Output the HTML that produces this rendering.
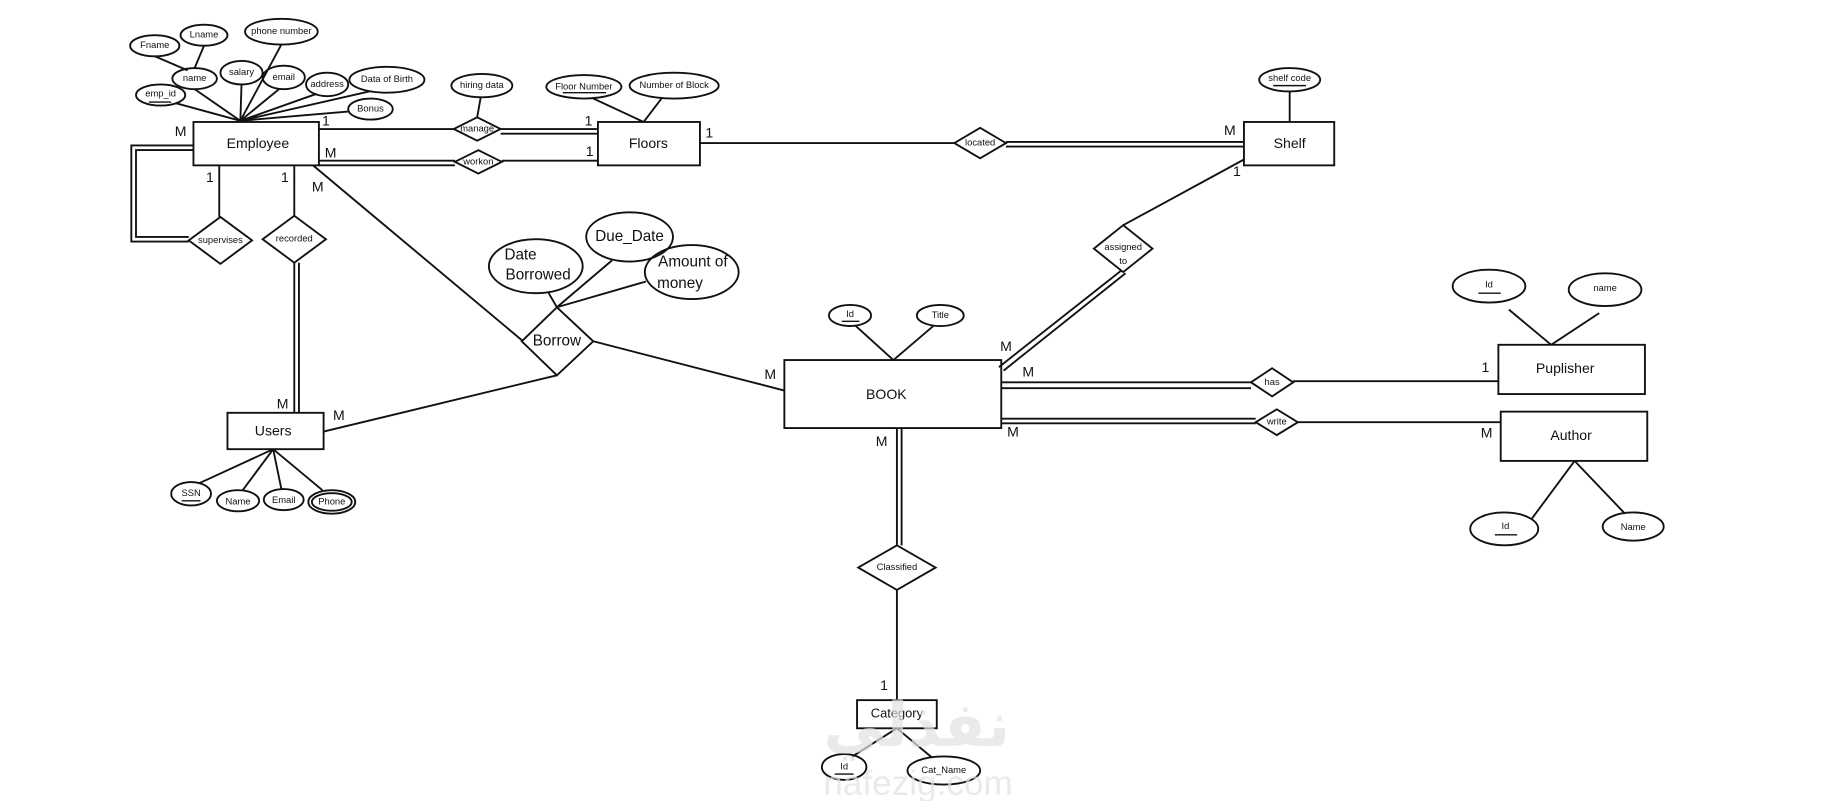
<!DOCTYPE html>
<html><head><meta charset="utf-8"><style>
html,body{margin:0;padding:0;background:#fff;}
svg{display:block}
text{font-family:"Liberation Sans",sans-serif;fill:#111;text-anchor:middle;dominant-baseline:middle}
.s{font-size:8px}.m{font-size:12px}.l{font-size:13px}
</style></head><body>
<svg width="1829" height="801" viewBox="0 0 1560 683" preserveAspectRatio="none" xmlns="http://www.w3.org/2000/svg">
<g stroke="#111" stroke-width="1.6" fill="none">
<line x1="205" y1="103" x2="166" y2="76"/><line x1="132" y1="48" x2="160" y2="60"/><line x1="174" y1="39" x2="166" y2="58"/>
<line x1="205" y1="103" x2="206" y2="72"/><line x1="205" y1="103" x2="240" y2="38"/><line x1="205" y1="103" x2="238" y2="76"/>
<line x1="205" y1="103" x2="270" y2="80"/><line x1="205" y1="103" x2="315" y2="78"/><line x1="205" y1="103" x2="150" y2="88"/>
<line x1="205" y1="103" x2="298" y2="95"/>
<ellipse cx="132" cy="39" rx="21" ry="9"/><ellipse cx="174" cy="30" rx="20" ry="9"/><ellipse cx="240" cy="27" rx="31" ry="11"/>
<ellipse cx="166" cy="67" rx="19" ry="9"/><ellipse cx="206" cy="62" rx="18" ry="10"/><ellipse cx="242" cy="66" rx="18" ry="10"/>
<ellipse cx="279" cy="72" rx="18" ry="10"/><ellipse cx="330" cy="68" rx="32" ry="11"/><ellipse cx="137" cy="81" rx="21" ry="9"/>
<ellipse cx="316" cy="93" rx="19" ry="9"/>
<rect x="165" y="104" width="107" height="37"/>
<line x1="272" y1="110" x2="387" y2="110"/><line x1="427" y1="110" x2="510" y2="110"/><line x1="427" y1="114" x2="510" y2="114"/>
<line x1="272" y1="137" x2="388" y2="137"/><line x1="272" y1="141" x2="388" y2="141"/><line x1="428" y1="137" x2="510" y2="137"/>
<polygon points="387,110 407,100 427,110 407,120"/><polygon points="388,138 408,128 428,138 408,148"/>
<line x1="410" y1="83" x2="407" y2="100"/><ellipse cx="411" cy="73" rx="26" ry="10"/>
<rect x="510" y="104" width="87" height="37"/>
<line x1="549" y1="104" x2="506" y2="84"/><line x1="549" y1="104" x2="565" y2="83"/>
<ellipse cx="498" cy="74" rx="32" ry="10"/><ellipse cx="575" cy="73" rx="38" ry="11"/>
<polyline points="165,124 112,124 112,206 161,206"/><polyline points="165,128 116,128 116,202 161,202"/>
<polygon points="161,205 188,185 215,205 188,225"/><line x1="187" y1="141" x2="187" y2="185"/>
<polygon points="224,204 251,184 278,204 251,224"/><line x1="251" y1="141" x2="251" y2="184"/>
<line x1="251" y1="224" x2="251" y2="352"/><line x1="255" y1="224" x2="255" y2="352"/>
<rect x="194" y="352" width="82" height="31"/>
<line x1="233" y1="383" x2="170" y2="412"/><line x1="233" y1="383" x2="207" y2="418"/><line x1="233" y1="383" x2="240" y2="417"/><line x1="233" y1="383" x2="275" y2="418"/>
<ellipse cx="163" cy="421" rx="17" ry="10"/><ellipse cx="203" cy="427" rx="18" ry="9"/><ellipse cx="242" cy="426" rx="17" ry="9"/>
<ellipse cx="283" cy="428" rx="20" ry="10"/><ellipse cx="283" cy="428" rx="17" ry="7.5"/>
<line x1="267" y1="141" x2="445" y2="290"/><line x1="276" y1="368" x2="475" y2="320"/>
<polygon points="445,291 475,262 506,291 475,320"/>
<line x1="475" y1="262" x2="468" y2="250"/><line x1="475" y1="262" x2="522" y2="222"/><line x1="475" y1="262" x2="551" y2="240"/>
<ellipse cx="457" cy="227" rx="40" ry="23"/><ellipse cx="537" cy="202" rx="37" ry="21"/><ellipse cx="590" cy="232" rx="40" ry="23"/>
<line x1="506" y1="291" x2="669" y2="333"/>
<rect x="669" y="307" width="185" height="58"/>
<line x1="762" y1="307" x2="730" y2="278"/><line x1="762" y1="307" x2="796" y2="278"/>
<ellipse cx="725" cy="269" rx="18" ry="9"/><ellipse cx="802" cy="269" rx="20" ry="9"/>
<line x1="597" y1="122" x2="814" y2="122"/><line x1="858" y1="121" x2="1061" y2="121"/><line x1="858" y1="125" x2="1061" y2="125"/>
<polygon points="814,122 836,109 858,122 836,135"/>
<rect x="1061" y="104" width="77" height="37"/><line x1="1100" y1="78" x2="1100" y2="104"/><ellipse cx="1100" cy="68" rx="26" ry="10"/>
<line x1="1061" y1="136" x2="958" y2="192"/><polygon points="933,212 958,192 983,212 958,232"/>
<line x1="956" y1="231" x2="852" y2="313"/><line x1="960" y1="233" x2="856" y2="316"/>
<line x1="854" y1="326" x2="1067" y2="326"/><line x1="854" y1="331" x2="1067" y2="331"/><line x1="1103" y1="325" x2="1278" y2="325"/>
<polygon points="1067,326 1085,314 1103,326 1085,338"/>
<line x1="854" y1="357" x2="1071" y2="357"/><line x1="854" y1="361" x2="1071" y2="361"/><line x1="1107" y1="360" x2="1280" y2="360"/>
<polygon points="1071,360 1089,349 1107,360 1089,371"/>
<rect x="1278" y="294" width="125" height="42"/><line x1="1323" y1="294" x2="1287" y2="264"/><line x1="1323" y1="294" x2="1364" y2="267"/>
<ellipse cx="1270" cy="244" rx="31" ry="14"/><ellipse cx="1369" cy="247" rx="31" ry="14"/>
<rect x="1280" y="351" width="125" height="42"/><line x1="1343" y1="393" x2="1306" y2="443"/><line x1="1343" y1="393" x2="1386" y2="438"/>
<ellipse cx="1283" cy="451" rx="29" ry="14"/><ellipse cx="1393" cy="449" rx="26" ry="12"/>
<line x1="765" y1="365" x2="765" y2="465"/><line x1="769" y1="365" x2="769" y2="465"/>
<polygon points="732,484 765,465 798,484 765,503"/><line x1="765" y1="503" x2="765" y2="597"/>
<rect x="731" y="597" width="68" height="24"/><line x1="765" y1="621" x2="727" y2="645"/><line x1="765" y1="621" x2="795" y2="646"/>
<ellipse cx="720" cy="654" rx="19" ry="11"/><ellipse cx="805" cy="657" rx="31" ry="12"/>
</g>
<g stroke="#111" stroke-width="1.2">
<line x1="127" y1="87" x2="146" y2="87"/><line x1="480" y1="79" x2="517" y2="79"/><line x1="1086" y1="73" x2="1114" y2="73"/>
<line x1="155" y1="427" x2="171" y2="427"/><line x1="718" y1="274" x2="733" y2="274"/><line x1="1261" y1="250" x2="1280" y2="250"/>
<line x1="1275" y1="456" x2="1294" y2="456"/><line x1="712" y1="660" x2="728" y2="660"/>
</g>
<text x="132" y="39" class="s">Fname</text><text x="174" y="30" class="s">Lname</text><text x="240" y="27" class="s">phone number</text>
<text x="166" y="67" class="s">name</text><text x="206" y="62" class="s">salary</text><text x="242" y="66" class="s">email</text>
<text x="279" y="72" class="s">address</text><text x="330" y="68" class="s">Data of Birth</text><text x="137" y="80" class="s">emp_id</text>
<text x="316" y="93" class="s">Bonus</text>
<text x="220" y="123" class="m">Employee</text>
<text x="407" y="110" class="s">manage</text><text x="408" y="138" class="s">workon</text><text x="411" y="73" class="s">hiring data</text>
<text x="553" y="123" class="m">Floors</text><text x="498" y="74" class="s">Floor Number</text><text x="575" y="73" class="s">Number of Block</text>
<text x="188" y="205" class="s">supervises</text><text x="251" y="204" class="s">recorded</text>
<text x="233" y="368" class="m">Users</text>
<text x="163" y="421" class="s">SSN</text><text x="203" y="428" class="s">Name</text><text x="242" y="427" class="s">Email</text><text x="283" y="428" class="s">Phone</text>
<text x="475" y="291" class="l">Borrow</text>
<text x="444" y="218" class="l">Date</text><text x="459" y="235" class="l">Borrowed</text>
<text x="537" y="202" class="l">Due_Date</text><text x="591" y="224" class="l">Amount of</text><text x="580" y="242" class="l">money</text>
<text x="756" y="337" class="m">BOOK</text><text x="725" y="268" class="s">Id</text><text x="802" y="269" class="s">Title</text>
<text x="836" y="122" class="s">located</text><text x="1100" y="123" class="m">Shelf</text><text x="1100" y="67" class="s">shelf code</text>
<text x="958" y="211" class="s">assigned</text><text x="958" y="223" class="s">to</text>
<text x="1085" y="326" class="s">has</text><text x="1089" y="360" class="s">write</text>
<text x="1335" y="315" class="m">Puplisher</text><text x="1270" y="243" class="s">Id</text><text x="1369" y="246" class="s">name</text>
<text x="1340" y="372" class="m">Author</text><text x="1284" y="449" class="s">Id</text><text x="1393" y="450" class="s">Name</text>
<text x="765" y="484" class="s">Classified</text><text x="765" y="609" class="m" style="font-size:11px">Category</text>
<text x="720" y="654" class="s">Id</text><text x="805" y="657" class="s">Cat_Name</text>
<g class="m">
<text x="278" y="104">1</text><text x="502" y="104">1</text><text x="282" y="131">M</text><text x="503" y="130">1</text>
<text x="154" y="113">M</text><text x="179" y="152">1</text><text x="243" y="152">1</text><text x="271" y="160">M</text>
<text x="241" y="345">M</text><text x="289" y="355">M</text><text x="657" y="320">M</text>
<text x="605" y="114">1</text><text x="1049" y="112">M</text><text x="1055" y="147">1</text><text x="858" y="296">M</text>
<text x="877" y="318">M</text><text x="1267" y="314">1</text><text x="864" y="369">M</text><text x="1268" y="370">M</text>
<text x="752" y="377">M</text><text x="754" y="585">1</text>
</g>
<text x="782" y="622" style="font-size:52px;fill:#e2e2e2;opacity:.7;font-family:'DejaVu Sans',sans-serif;font-weight:bold">نفذلي</text>
<text x="783" y="670" style="font-size:30px;fill:#e2e2e2;opacity:.7">nafezig.com</text>
</svg>
</body></html>
